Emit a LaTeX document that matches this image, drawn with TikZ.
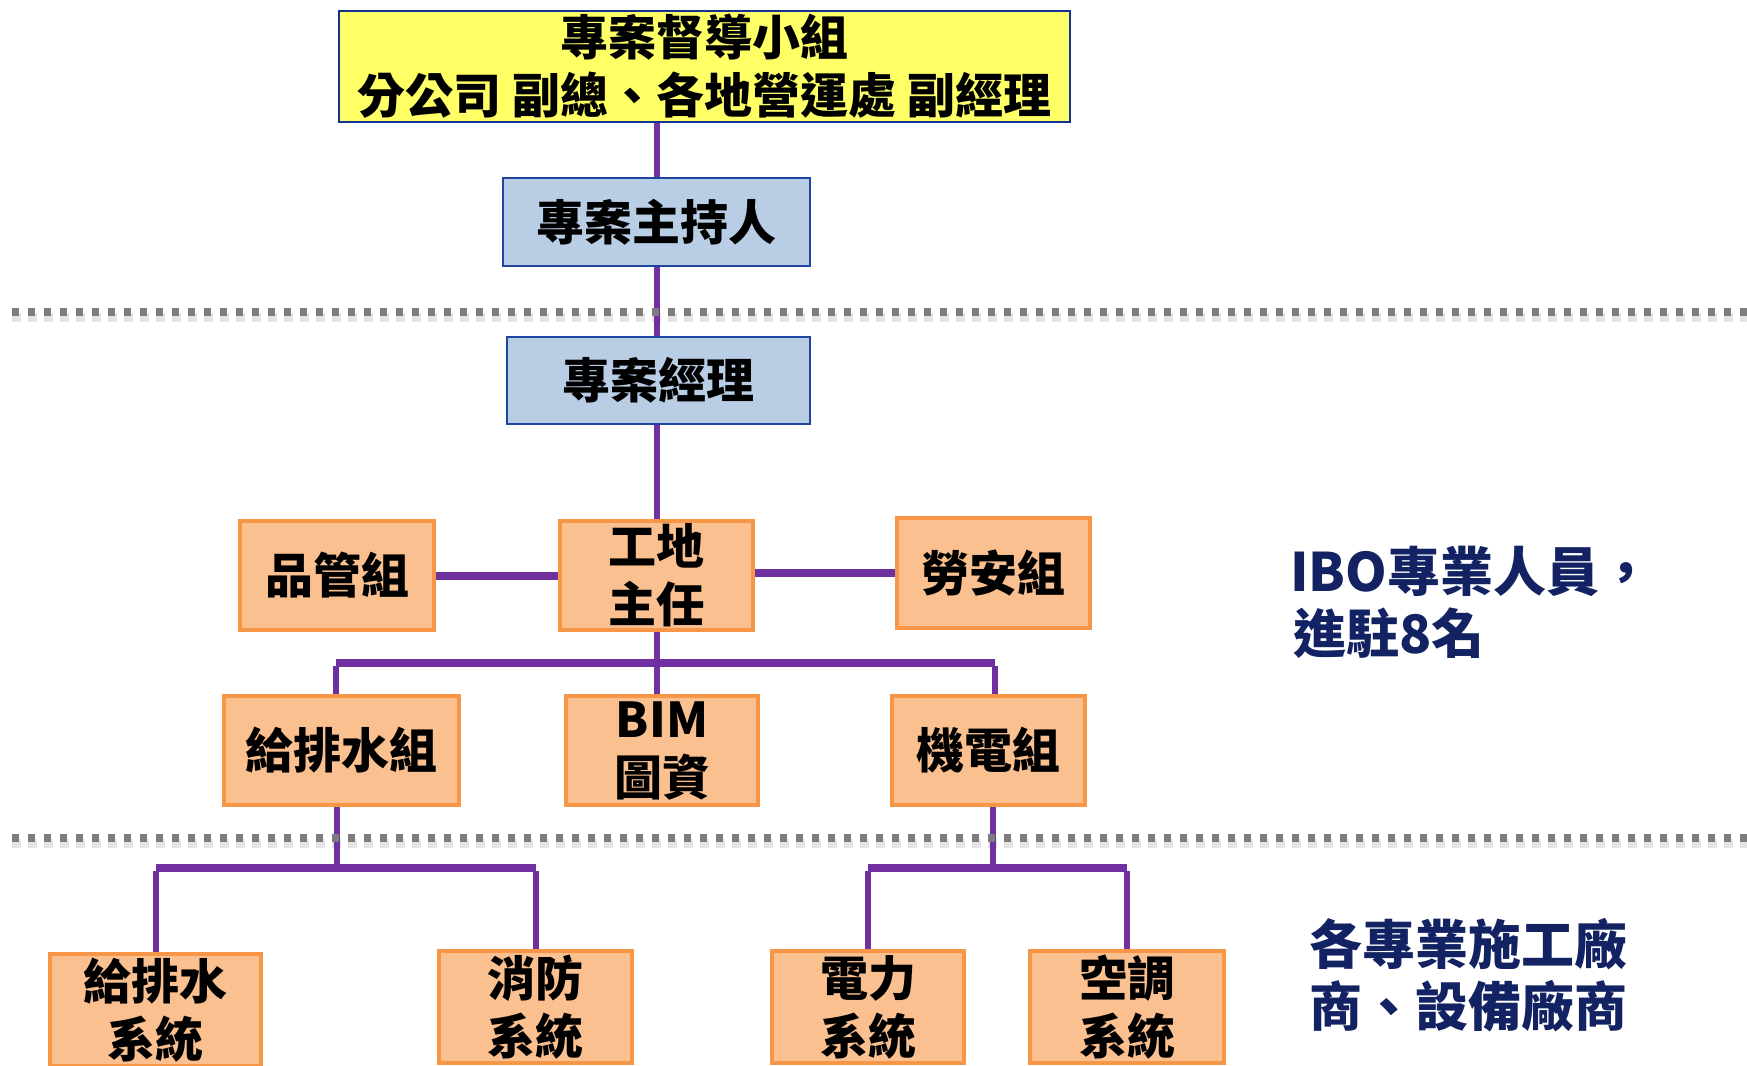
\documentclass[tikz,border=0pt]{standalone}
\usepackage{fontspec}
\newfontfamily\cjk{Noto Sans CJK TC}
\definecolor{boxorange}{RGB}{247,150,70}
\definecolor{boxfill}{RGB}{250,192,144}
\definecolor{boxblue}{RGB}{30,70,160}
\definecolor{bluefill}{RGB}{185,205,229}
\definecolor{topfill}{RGB}{255,255,102}
\definecolor{topborder}{RGB}{20,50,150}
\definecolor{connpurple}{RGB}{112,48,160}
\definecolor{navy}{RGB}{18,34,98}
\definecolor{dotgray}{RGB}{125,125,125}
\begin{document}
\begin{tikzpicture}[x=1pt,y=-1pt,
  txt/.style={font=\cjk\bfseries\fontsize{48}{58}\selectfont, align=center, inner sep=0pt},
  obox/.style={txt, draw=boxorange, fill=boxfill, line width=4pt},
  bbox/.style={txt, draw=boxblue, fill=bluefill, line width=2pt},
  ybox/.style={txt, draw=topborder, fill=topfill, line width=2pt},
  conn/.style={draw=connpurple, line width=6pt},
  bus/.style={draw=connpurple, line width=8pt},
  sep/.style={draw=dotgray, line width=8pt, dash pattern=on 7pt off 9pt},
  sepshadow/.style={draw=gray!30, line width=9pt, dash pattern=on 9pt off 7pt, opacity=0.7},
  note/.style={font=\cjk\bfseries\fontsize{53}{62}\selectfont, text=navy, anchor=west, inner sep=0pt}
]
\useasboundingbox (0,0) rectangle (1747,1065);
\clip (0,0) rectangle (1747,1065);

% separators (shadow)
\coordinate (s1a) at (12,312); \coordinate (s1b) at (1760,312);
\coordinate (s2a) at (12,838); \coordinate (s2b) at (1760,838);
\draw[sepshadow] ([yshift=-5pt]s1a) -- ([yshift=-5pt]s1b);
\draw[sepshadow] ([yshift=-5pt]s2a) -- ([yshift=-5pt]s2b);

% nodes
\node[ybox, minimum width=731pt, minimum height=111pt] (top) at (704.5,66.5) {專案督導小組\\分公司 副總、各地營運處 副經理};
\node[bbox, minimum width=307pt, minimum height=88pt] (host) at (656.5,222) {專案主持人};
\node[bbox, minimum width=303pt, minimum height=87pt] (pm) at (658.5,380.5) {專案經理};

\node[obox, minimum width=194pt, minimum height=109pt] (qc) at (337,575.5) {品管組};
\node[obox, minimum width=193pt, minimum height=109pt] (site) at (656.5,575.5) {工地\\主任};
\node[obox, minimum width=193pt, minimum height=110pt] (safety) at (993.5,573) {勞安組};

\node[obox, minimum width=235pt, minimum height=109pt] (water) at (341.5,750.5) {給排水組};
\node[obox, minimum width=192pt, minimum height=109pt] (bim) at (662,750.5) {BIM\\圖資};
\node[obox, minimum width=193pt, minimum height=109pt] (mech) at (988.5,750.5) {機電組};

\node[obox, minimum width=211pt, minimum height=112pt] (ws) at (155.5,1010) {給排水\\系統};
\node[obox, minimum width=193pt, minimum height=112pt] (fire) at (535.5,1007) {消防\\系統};
\node[obox, minimum width=192pt, minimum height=112pt] (power) at (868,1007) {電力\\系統};
\node[obox, minimum width=194pt, minimum height=112pt] (ac) at (1127,1007) {空調\\系統};

% connectors
\draw[conn] (host.north |- top.south) -- (host.north);
\draw[conn] (host.south) -- (host.south |- pm.north);
\draw[conn] (site.north |- pm.south) -- (site.north);
\draw[bus] (qc.east) -- (site.west);
\draw[bus] (site.east |- safety.west) -- (safety.west);

\coordinate (busL) at (336,663);
\coordinate (busR) at (995,663);
\draw[conn] (site.south) -- (site.south |- bim.north);
\draw[bus] (busL) -- (busR);
\draw[conn] ([yshift=-3pt]busL) -- (busL |- water.north);
\draw[conn] ([yshift=-3pt]busR) -- (busR |- mech.north);

\coordinate (j1) at (337,868);
\coordinate (j2) at (993,868);
\draw[conn] (j1 |- water.south) -- (j1);
\draw[bus] (ws.north |- j1) -- (fire.north |- j1);
\draw[conn] ([yshift=-3pt]ws.north |- j1) -- (ws.north);
\draw[conn] ([yshift=-3pt]fire.north |- j1) -- (fire.north);
\draw[conn] (j2 |- mech.south) -- (j2);
\draw[bus] (power.north |- j2) -- (ac.north |- j2);
\draw[conn] ([yshift=-3pt]power.north |- j2) -- (power.north);
\draw[conn] ([yshift=-3pt]ac.north |- j2) -- (ac.north);

% separators on top
\draw[sep] (s1a) -- (s1b);
\draw[sep] (s2a) -- (s2b);

% notes
\node[note] (n1) at (1290,571) {IBO專業人員，};
\node[note] (n2) at (1293,633) {進駐8名};
\node[note] (n3) at (1309,944) {各專業施工廠};
\node[note] (n4) at (1309,1006) {商、設備廠商};
\end{tikzpicture}
\end{document}
